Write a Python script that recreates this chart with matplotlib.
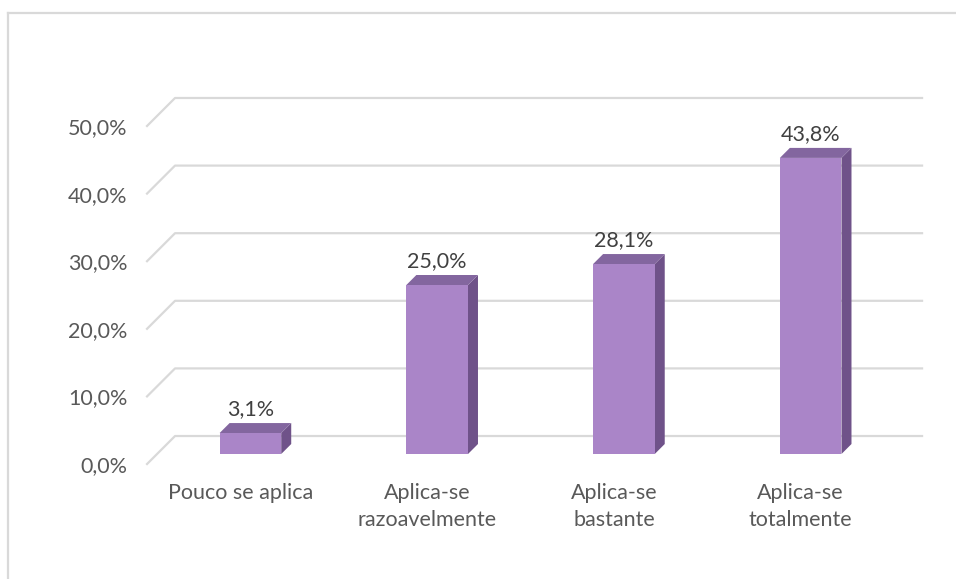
import matplotlib
matplotlib.use('Agg')
import matplotlib.pyplot as plt
from matplotlib.patches import Polygon
from matplotlib.lines import Line2D
from matplotlib.transforms import IdentityTransform

categories = ['Pouco se aplica', 'Aplica-se\nrazoavelmente', 'Aplica-se\nbastante', 'Aplica-se\ntotalmente']
values = [3.1, 25.0, 28.1, 43.8]
value_labels = ['3,1%', '25,0%', '28,1%', '43,8%']
yticks = [0, 10, 20, 30, 40, 50]
ytick_labels = ['0,0%', '10,0%', '20,0%', '30,0%', '40,0%', '50,0%']

plt.rcParams['font.family'] = ['Lato', 'DejaVu Sans']

FRONT = '#AA85C8'
TOP = '#83669F'
SIDE = '#6F5289'
GRID = '#D9D9D9'
TEXT = '#595959'
FS = 15.5

fig = plt.figure(figsize=(9.56, 5.79), dpi=100)
ax = fig.add_axes([0.1538, 0.1986, 0.7814, 0.5838])
ax.set_xlim(-0.5, 3.5)
ax.set_ylim(0, 50)
ax.set_autoscale_on(False)
ax.patch.set_visible(False)
for s in ax.spines.values():
    s.set_visible(False)
ax.set_xticks(range(len(categories)), categories)
ax.set_yticks(yticks, ytick_labels)
ax.tick_params(length=0, colors=TEXT, labelsize=FS)
ax.tick_params(axis='y', pad=14)
ax.tick_params(axis='x', pad=14)
for t in ax.get_xticklabels():
    t.set_linespacing(1.42)

# pseudo-3d: depth is a diagonal pixel offset from the front plane
WALL = 28
BAR_FRONT, BAR_BACK = 10, 20
WIDTH = 0.33
ident = IdentityTransform()


def px(x, y, d=0):
    X, Y = ax.transData.transform((x, y))
    return (X + d, Y + d)


# gridlines on the back wall, plus the diagonal on the side wall
x0, x1 = ax.get_xlim()
for v in yticks:
    pts = [px(x0, v), px(x0, v, WALL), px(x1, v, WALL)]
    ax.add_line(Line2D([p[0] for p in pts], [p[1] for p in pts], color=GRID,
                       lw=1.6, transform=ident, clip_on=False, zorder=1))

for i, v in enumerate(values):
    l, r = i - WIDTH / 2, i + WIDTH / 2
    front = [px(l, 0, BAR_FRONT), px(r, 0, BAR_FRONT), px(r, v, BAR_FRONT), px(l, v, BAR_FRONT)]
    top = [px(l, v, BAR_FRONT), px(r, v, BAR_FRONT), px(r, v, BAR_BACK), px(l, v, BAR_BACK)]
    side = [px(r, 0, BAR_FRONT), px(r, 0, BAR_BACK), px(r, v, BAR_BACK), px(r, v, BAR_FRONT)]
    for poly, c in ((side, SIDE), (top, TOP), (front, FRONT)):
        ax.add_patch(Polygon(poly, closed=True, facecolor=c, edgecolor='none',
                             transform=ident, clip_on=False, zorder=3))
    ax.annotate(value_labels[i], xy=(i, v), xytext=(BAR_FRONT, BAR_FRONT + 24),
                textcoords='offset pixels', ha='center', va='center',
                fontsize=FS, color='#404040', zorder=4)

# chart area border
bx, by = 8 / 956, 1 - 13 / 579
fig.add_artist(Line2D([bx, bx], [0, by], color=GRID, lw=1.6))
fig.add_artist(Line2D([bx, 1], [by, by], color=GRID, lw=1.6))

fig.savefig('out.png', dpi=100, facecolor='white')
